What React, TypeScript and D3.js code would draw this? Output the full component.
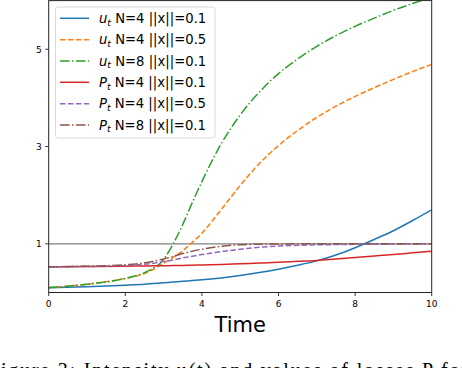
import React from "react";
import * as d3 from "d3";

const T = [0, 1, 2, 2.5, 3, 3.25, 3.5, 3.75, 4, 4.5, 5, 5.5, 6, 6.5, 7, 7.5, 8, 8.5, 9, 9.5, 10];
const uN4x01 = [0.1, 0.12, 0.15, 0.17, 0.2, 0.215, 0.23, 0.245, 0.26, 0.3, 0.35, 0.41, 0.48, 0.56, 0.65, 0.77, 0.92, 1.09, 1.27, 1.48, 1.7];
const uN4x05 = [0.1, 0.17, 0.29, 0.39, 0.6, 0.72, 0.86, 1.03, 1.22, 1.7, 2.2, 2.65, 3.02, 3.33, 3.6, 3.83, 4.03, 4.21, 4.38, 4.54, 4.69];
const uN8x01 = [0.1, 0.17, 0.29, 0.41, 0.68, 1.0, 1.4, 1.85, 2.28, 3.05, 3.65, 4.12, 4.5, 4.8, 5.06, 5.28, 5.47, 5.64, 5.8, 5.94, 6.07];
const pN4x01 = [0.53, 0.533, 0.54, 0.545, 0.55, 0.553, 0.557, 0.561, 0.565, 0.575, 0.59, 0.605, 0.62, 0.64, 0.66, 0.69, 0.72, 0.75, 0.78, 0.815, 0.85];
const pN4x05 = [0.53, 0.535, 0.555, 0.58, 0.635, 0.67, 0.71, 0.745, 0.78, 0.84, 0.89, 0.93, 0.955, 0.97, 0.98, 0.985, 0.99, 0.993, 0.995, 0.997, 0.998];
const pN8x01 = [0.53, 0.54, 0.57, 0.61, 0.69, 0.74, 0.8, 0.85, 0.89, 0.95, 0.98, 0.993, 0.998, 1, 1, 1, 1, 1, 1, 1, 1];

const seriesSym = ["u", "u", "u", "P", "P", "P"];
const seriesLabel = [" N=4 ||x||=0.1", " N=4 ||x||=0.5", " N=8 ||x||=0.1", " N=4 ||x||=0.1", " N=4 ||x||=0.5", " N=8 ||x||=0.1"];
const seriesValues = [uN4x01, uN4x05, uN8x01, pN4x01, pN4x05, pN8x01];
const seriesColor = ["#1f77b4", "#ff7f0e", "#2ca02c", "#d62728", "#9467bd", "#8c564b"];
const seriesDash = ["", "5.55,2.4", "9.6,2.4,1.5,2.4", "", "5.55,2.4", "9.6,2.4,1.5,2.4"];

const xTicks = [0, 2, 4, 6, 8, 10];
const yTicks = [1, 3, 5];
const caption = "Figure 3: Intensity u(t) and values of losses P for";

export default function App() {
  const W = 462, H = 368;
  const L = 48.7, R = 431.7, TOP = 0.6, B = 292.5;
  const x = d3.scaleLinear().domain([0, 10]).range([L, R]);
  const y = d3.scaleLinear().domain([0, 6]).range([B, TOP]);
  const line = d3
    .line<number>()
    .x((_, i) => x(T[i]))
    .y((d) => y(d))
    .curve(d3.curveMonotoneX);
  const font = "'DejaVu Sans', sans-serif";
  const legRows = [18.3, 39.7, 61, 82.3, 103.7, 125];
  return (
    <svg
      width={W}
      height={H}
      style={{ position: "absolute", left: 0, top: 0, background: "#fff" }}
      fontFamily={font}
    >
      <defs>
        <clipPath id="plot">
          <rect x={L} y={TOP} width={R - L} height={B - TOP} />
        </clipPath>
      </defs>
      <rect width={W} height={H} fill="#fff" />
      <g clipPath="url(#plot)">
        <line x1={L} x2={R} y1={y(1)} y2={y(1)} stroke="#808080" strokeWidth={1.1} />
        {seriesValues.map((vals, i) => (
          <path
            key={i}
            d={line(vals) || ""}
            fill="none"
            stroke={seriesColor[i]}
            strokeWidth={1.5}
            strokeDasharray={seriesDash[i] || undefined}
          />
        ))}
      </g>
      <rect x={L} y={TOP} width={R - L} height={B - TOP} fill="none" stroke="#222" strokeWidth={1} />
      {xTicks.map((t) => (
        <g key={t}>
          <line x1={x(t)} x2={x(t)} y1={B} y2={B + 3.5} stroke="#222" strokeWidth={0.9} />
          <text x={x(t)} y={B + 14.8} fontSize={9} textAnchor="middle" fill="#000">
            {t}
          </text>
        </g>
      ))}
      {yTicks.map((t) => (
        <g key={t}>
          <line x1={L - 3.5} x2={L} y1={y(t)} y2={y(t)} stroke="#222" strokeWidth={0.9} />
          <text x={L - 7} y={y(t) + 3.3} fontSize={9} textAnchor="end" fill="#000">
            {t}
          </text>
        </g>
      ))}
      <text x={(L + R) / 2} y={331.7} fontSize={21} textAnchor="middle" fill="#000">
        Time
      </text>
      <rect x={55.5} y={7} width={159.5} height={131} rx={2.5} fill="#fff" fillOpacity={0.8} stroke="#d9d9d9" strokeWidth={1} />
      {seriesSym.map((s, i) => (
        <g key={i}>
          <line
            x1={60}
            x2={89}
            y1={legRows[i]}
            y2={legRows[i]}
            stroke={seriesColor[i]}
            strokeWidth={1.5}
            strokeDasharray={seriesDash[i] || undefined}
          />
          <text x={99} y={legRows[i] + 4.7} fontSize={13.2} fill="#000">
            <tspan fontStyle="italic">{s}</tspan>
            <tspan fontSize={9.2} fontStyle="italic" dy={2.6}>t</tspan>
            <tspan dy={-2.6}>{seriesLabel[i]}</tspan>
          </text>
        </g>
      ))}
      <text
        x={-12}
        y={377}
        fontSize={20}
        fontFamily="'Liberation Serif', serif"
        fill="#000"
        textLength={480}
        lengthAdjust="spacing"
      >
        {caption}
      </text>
    </svg>
  );
}
